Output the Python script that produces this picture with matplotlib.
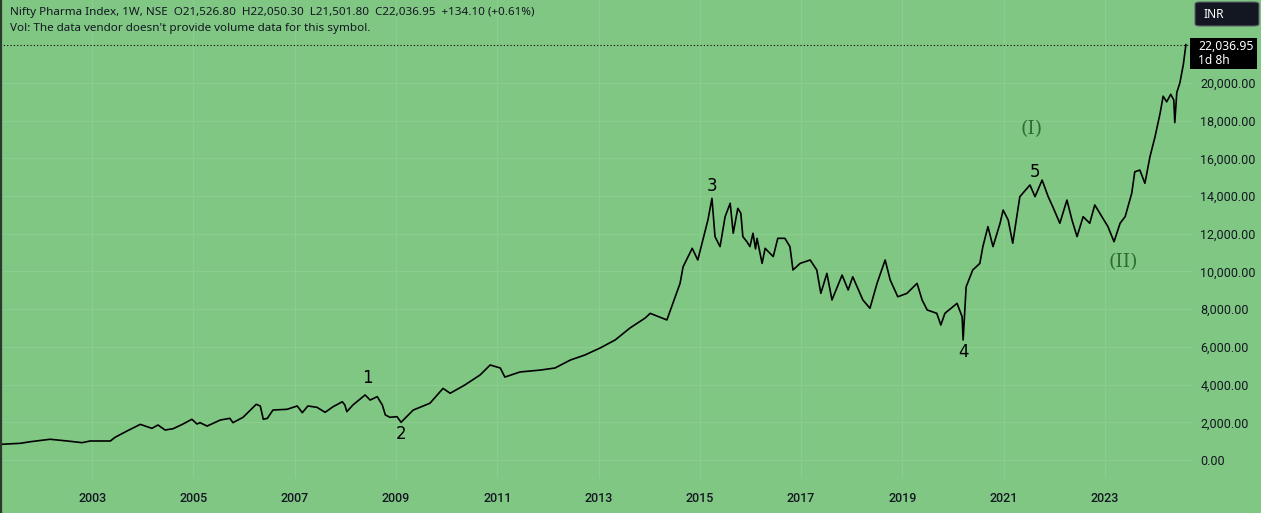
import matplotlib
matplotlib.use('Agg')
import matplotlib.pyplot as plt
from matplotlib.patches import Rectangle, FancyBboxPatch
from matplotlib.lines import Line2D

# --- weekly closes (decimal year, price) ---
dates = [
    2001.18, 2001.58, 2001.78, 2002.17, 2002.51, 2002.80, 2002.96, 2003.36, 2003.45, 2003.69,
    2003.95, 2004.18, 2004.30, 2004.44, 2004.60, 2004.78, 2004.97, 2005.07, 2005.13, 2005.27,
    2005.53, 2005.72, 2005.78, 2005.98, 2006.08, 2006.24, 2006.32, 2006.38, 2006.46, 2006.57,
    2006.85, 2007.05, 2007.15, 2007.26, 2007.44, 2007.60, 2007.76, 2007.94, 2007.99, 2008.03,
    2008.15, 2008.39, 2008.49, 2008.63, 2008.73, 2008.79, 2008.88, 2009.02, 2009.10, 2009.34,
    2009.67, 2009.93, 2010.07, 2010.36, 2010.66, 2010.86, 2011.06, 2011.15, 2011.45, 2011.85,
    2012.14, 2012.44, 2012.73, 2013.03, 2013.33, 2013.62, 2013.92, 2014.02, 2014.35, 2014.47,
    2014.61, 2014.67, 2014.85, 2014.96, 2015.06, 2015.16, 2015.24, 2015.30, 2015.40, 2015.50,
    2015.60, 2015.66, 2015.75, 2015.81, 2015.85, 2015.93, 2015.99, 2016.05, 2016.10, 2016.13,
    2016.23, 2016.29, 2016.45, 2016.54, 2016.68, 2016.78, 2016.84, 2016.98, 2017.18, 2017.31,
    2017.39, 2017.51, 2017.61, 2017.81, 2017.93, 2018.02, 2018.22, 2018.36, 2018.50, 2018.66,
    2018.76, 2018.91, 2019.09, 2019.29, 2019.39, 2019.49, 2019.68, 2019.76, 2019.84, 2020.08,
    2020.18, 2020.20, 2020.26, 2020.39, 2020.53, 2020.59, 2020.69, 2020.79, 2020.93, 2020.99,
    2021.09, 2021.18, 2021.32, 2021.52, 2021.62, 2021.76, 2021.88, 2021.97, 2022.11, 2022.25,
    2022.35, 2022.45, 2022.57, 2022.70, 2022.80, 2022.94, 2023.06, 2023.18, 2023.30, 2023.40,
    2023.53, 2023.59, 2023.69, 2023.79, 2023.89, 2023.99, 2024.09, 2024.15, 2024.22, 2024.30,
    2024.36, 2024.38, 2024.42, 2024.48, 2024.55, 2024.60,
]
closes = [
    830, 885, 970, 1100, 1008, 920, 1008, 1008, 1200, 1540,
    1890, 1680, 1857, 1590, 1660, 1890, 2160, 1910, 1980, 1800,
    2120, 2210, 1980, 2265, 2530, 2955, 2865, 2160, 2210, 2650,
    2690, 2865, 2510, 2865, 2795, 2530, 2830, 3090, 2920, 2565,
    2920, 3450, 3180, 3360, 2920, 2390, 2265, 2300, 2000, 2650,
    3010, 3800, 3540, 3980, 4510, 5040, 4880, 4400, 4670, 4770,
    4880, 5300, 5570, 5940, 6370, 7000, 7530, 7780, 7430, 8330,
    9370, 10250, 11230, 10610, 11670, 12730, 13880, 11850, 11320, 12910,
    13620, 12030, 13350, 13090, 11850, 11580, 11320, 12030, 11200, 11760,
    10430, 11230, 10790, 11760, 11760, 11320, 10080, 10430, 10610, 10080,
    8840, 9900, 8490, 9810, 9020, 9720, 8490, 8050, 9370, 10610,
    9550, 8660, 8840, 9370, 8490, 7960, 7780, 7160, 7780, 8310,
    7600, 6370, 9190, 10080, 10430, 11320, 12380, 11320, 12560, 13260,
    12730, 11500, 13970, 14590, 13970, 14850, 13970, 13440, 12560, 13790,
    12730, 11850, 12910, 12560, 13530, 12910, 12380, 11580, 12560, 12910,
    14150, 15290, 15380, 14680, 16090, 17150, 18390, 19300, 19000, 19400,
    19100, 17900, 19500, 20000, 21000, 22036.95,
]

last_close = 22036.95
y_ticks = [0, 2000, 4000, 6000, 8000, 10000, 12000, 14000, 16000, 18000, 20000]
x_ticks = [2003, 2005, 2007, 2009, 2011, 2013, 2015, 2017, 2019, 2021, 2023]

# Elliott wave labels: (text, year, price, colour, size)
wave_labels = [
    ('1', 2008.43, 4350, 'black', 12),
    ('2', 2009.10, 1380, 'black', 12),
    ('3', 2015.24, 14540, 'black', 12),
    ('4', 2020.20, 5730, 'black', 12),
    ('5', 2021.62, 15280, 'black', 12),
    ('(I)', 2021.56, 17560, '#2f6b33', 13.5),
    ('(II)', 2023.36, 10500, '#2f6b33', 13.5),
]

header = 'Nifty Pharma Index, 1W, NSE  O21,526.80  H22,050.30  L21,501.80  C22,036.95  +134.10 (+0.61%)'
vol_line = "Vol: The data vendor doesn't provide volume data for this symbol."

BG = '#81c784'
GRID = '#8ccd8f'
TXT = '#131722'

W, H = 1261, 513
fig = plt.figure(figsize=(W / 100, H / 100), dpi=100, facecolor=BG)
ax = fig.add_axes([0, 35 / H, 1192 / W, 478 / H], facecolor=BG)

ax.plot(dates, closes, color='black', lw=1.2)

ax.set_xlim(2001.18, 2024.72)
ax.set_ylim(-955, 24403)
for s in ax.spines.values():
    s.set_visible(False)

ax.set_yticks(y_ticks)
ax.set_yticklabels([f'{v:,.2f}' for v in y_ticks])
ax.yaxis.tick_right()
ax.set_xticks(x_ticks)
ax.set_xticklabels([str(v) for v in x_ticks])
ax.tick_params(axis='y', length=0, pad=6, labelsize=9, labelcolor=TXT)
ax.tick_params(axis='x', length=0, pad=10, labelsize=9, labelcolor=TXT)
for lab in ax.get_yticklabels():
    lab.set_fontfamily('Roboto')
for lab in ax.get_xticklabels():
    lab.set_fontfamily('Roboto')
    lab.set_fontweight('medium')
ax.grid(True, color=GRID, lw=0.8)
ax.set_axisbelow(True)

ax.axhline(last_close, color='black', lw=0.8, ls=(0, (1, 2)))

for txt, x, y, col, size in wave_labels:
    fam = 'DejaVu Serif' if txt.startswith('(') else 'DejaVu Sans'
    ax.text(x, y, txt, color=col, fontsize=size, ha='center', va='center', family=fam)

# header text
fig.text(10 / W, 1 - 12 / H, header, fontsize=8.4, color=TXT, va='center', family='Noto Sans')
fig.text(10 / W, 1 - 29 / H, vol_line, fontsize=8.4, color=TXT, va='center', family='Noto Sans')

# currency box
fig.add_artist(FancyBboxPatch((1195 / W, 1 - 26 / H), 64 / W, 24 / H,
                              boxstyle='round,pad=0,rounding_size=0.004',
                              transform=fig.transFigure, facecolor='#131722',
                              edgecolor='#5d606b', lw=0.8))
fig.text(1204 / W, 1 - 14 / H, 'INR', fontsize=8.6, color='white', va='center', family='Noto Sans')

# last price box
fig.add_artist(Rectangle((1190 / W, 1 - 69 / H), 67 / W, 31 / H,
                         transform=fig.transFigure, facecolor='black', edgecolor='none'))
fig.text(1198 / W, 1 - 46 / H, f'{last_close:,.2f}', fontsize=8.8, color='white',
         va='center', fontweight='bold', family='Noto Sans')
fig.text(1198 / W, 1 - 61 / H, '1d 8h', fontsize=8.6, color='white', va='center', family='Noto Sans')

# dark left border
fig.add_artist(Line2D([0.8 / W, 0.8 / W], [0, 1], transform=fig.transFigure, color='#2a3a2a', lw=1.6))

fig.savefig('out.png', dpi=100, facecolor=BG)
